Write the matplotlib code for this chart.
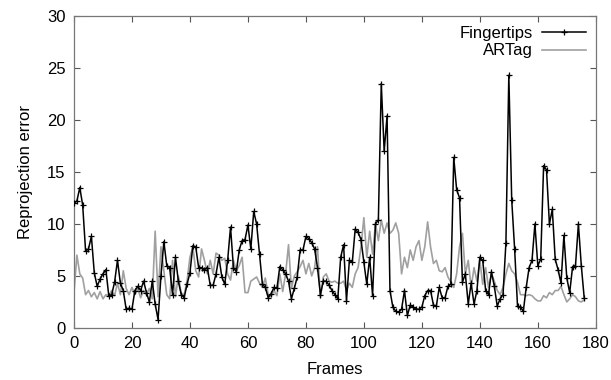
import numpy as np
import matplotlib
matplotlib.use("Agg")
import matplotlib.pyplot as plt

plt.rcParams['font.family'] = ['Liberation Sans', 'DejaVu Sans']

# reprojection error per frame
fingertips = [
    12.0, 12.2, 13.5, 11.8, 7.4, 7.6, 8.8, 5.3, 4.0, 4.7,
    5.2, 5.6, 3.1, 3.2, 4.4, 6.5, 4.3, 3.6, 1.8, 1.9,
    1.8, 3.6, 4.0, 3.6, 4.5, 3.4, 2.5, 4.5, 2.3, 0.8,
    5.0, 8.3, 6.0, 5.8, 3.2, 6.8, 4.5, 3.2, 2.9, 4.2,
    5.3, 7.9, 7.8, 5.8, 5.8, 5.6, 5.8, 4.1, 4.1, 5.2,
    6.8, 4.9, 4.2, 6.5, 9.7, 5.8, 5.4, 7.5, 8.4, 8.5,
    9.9, 7.6, 11.2, 10.0, 7.1, 4.2, 3.9, 2.9, 3.3, 3.9,
    3.8, 5.9, 5.6, 5.2, 4.5, 2.8, 3.8, 4.9, 7.5, 7.5,
    8.8, 8.6, 8.2, 7.6, 5.8, 3.2, 4.5, 4.5, 4.1, 3.6,
    3.2, 2.8, 6.8, 8.0, 2.6, 6.5, 6.3, 9.5, 9.2, 8.5,
    6.3, 4.2, 6.8, 3.1, 10.0, 10.4, 23.5, 17.0, 20.4, 3.6,
    2.0, 1.6, 1.5, 1.8, 3.6, 1.2, 2.2, 2.0, 1.8, 1.8,
    2.0, 3.1, 3.6, 3.6, 2.2, 2.1, 3.9, 2.9, 2.9, 4.0,
    4.2, 16.4, 13.3, 12.5, 4.4, 5.2, 2.3, 4.3, 2.3, 3.6,
    6.8, 6.5, 3.6, 3.2, 5.4, 4.0, 2.1, 2.8, 3.2, 8.2,
    24.3, 12.3, 7.6, 2.1, 2.0, 1.6, 3.9, 5.8, 6.5, 10.0,
    6.0, 6.6, 15.6, 15.2, 10.0, 11.4, 6.6, 5.6, 4.3, 8.9,
    4.8, 3.4, 5.9, 6.0, 10.0, 6.0, 2.9,
]

artag = [
    3.4, 7.0, 5.2, 4.8, 3.2, 3.6, 3.0, 3.4, 2.8, 3.5,
    2.8, 3.2, 3.1, 3.6, 3.1, 4.3, 3.2, 5.5, 3.8, 3.2,
    3.9, 3.2, 3.8, 2.9, 3.6, 3.2, 3.8, 2.8, 9.3, 3.0,
    7.8, 5.5, 3.2, 2.8, 6.5, 3.0, 5.0, 3.3, 3.2, 4.5,
    6.8, 7.8, 5.5, 4.9, 7.6, 6.5, 5.2, 6.5, 5.2, 7.2,
    7.0, 6.5, 6.7, 5.2, 4.6, 6.5, 5.5, 6.0, 6.8, 3.4,
    3.4, 4.5, 4.7, 4.9, 4.3, 3.9, 4.8, 3.2, 3.0, 3.6,
    3.1, 5.2, 3.5, 5.2, 8.0, 3.8, 5.0, 5.4, 5.9, 6.5,
    5.2, 6.2, 5.0, 5.8, 7.8, 2.9, 4.9, 5.2, 4.5, 4.4,
    4.5, 4.3, 4.3, 4.5, 3.6, 4.3, 3.9, 5.2, 5.8, 7.8,
    10.6, 6.8, 9.3, 7.1, 10.0, 8.4, 10.4, 9.1, 10.1, 9.1,
    9.4, 10.1, 9.1, 5.2, 6.8, 5.8, 7.5, 6.5, 7.8, 8.4,
    6.5, 7.8, 10.2, 7.8, 6.2, 6.5, 5.5, 5.4, 5.8, 4.9,
    4.4, 3.9, 5.2, 7.8, 9.1, 5.2, 6.5, 3.9, 5.8, 4.5,
    6.5, 4.2, 5.8, 3.9, 5.2, 4.5, 3.6, 3.2, 3.9, 5.2,
    6.2, 5.5, 5.2, 4.4, 3.2, 3.2, 3.1, 3.2, 3.1, 2.8,
    2.6, 2.6, 3.1, 2.9, 3.4, 3.2, 3.6, 3.6, 4.0, 3.2,
    2.5, 2.8, 3.2, 3.0, 2.6, 2.5, 2.7,
]

frames_f = np.arange(len(fingertips))
frames_a = np.arange(len(artag))

fig = plt.figure(figsize=(6.11, 3.8), dpi=100)
ax = fig.add_axes([0.1211, 0.137, 0.854, 0.821])

ax.plot(frames_a, artag, color="#a0a0a0", lw=1.2, label="ARTag", zorder=2)
ax.plot(frames_f, fingertips, color="black", lw=1.1, marker="+", markersize=5,
        markeredgewidth=0.9, label="Fingertips", zorder=3)

ax.set_xlim(0, 180)
ax.set_ylim(0, 30)
ax.set_xticks(np.arange(0, 181, 20))
ax.set_yticks(np.arange(0, 31, 5))
ax.tick_params(direction="in", length=4, top=True, right=True, labelsize=12,
               color="#555555", pad=6)
for sp in ax.spines.values():
    sp.set_color("#777777")
    sp.set_linewidth(0.9)

ax.set_xlabel("Frames", fontsize=12, labelpad=8)
ax.set_ylabel("Reprojection error", fontsize=12, labelpad=10)

handles, labels = ax.get_legend_handles_labels()
leg = ax.legend(handles[::-1], labels[::-1], loc="upper right", frameon=False,
                markerfirst=False, fontsize=12, handlelength=2.6,
                borderaxespad=0.2, labelspacing=0.15, handletextpad=0.6)

fig.savefig("out.png", dpi=100)
